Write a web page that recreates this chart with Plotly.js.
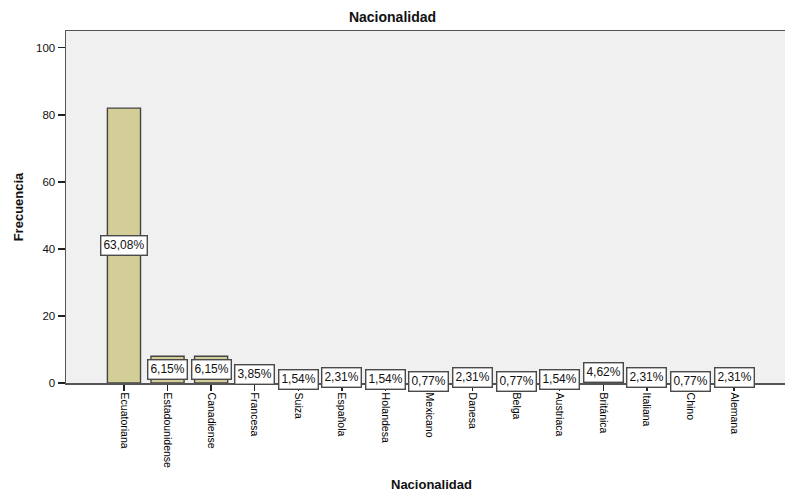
<!DOCTYPE html>
<html>
<head>
<meta charset="utf-8">
<script src="https://cdn.plot.ly/plotly-3.0.1.min.js"></script>
<style>html,body{margin:0;padding:0;background:#fff;}#chart{width:785px;height:491px;}</style>
</head>
<body>
<div id="chart"></div>
<script>
const categories = ["Ecuatoriana","Estadounidense","Canadiense","Francesa","Suiza","Española","Holandesa","Mexicano","Danesa","Belga","Austriaca","Británica","Italiana","Chino","Alemana"];
const counts = [82, 8, 8, 5, 2, 3, 2, 1, 3, 1, 2, 6, 3, 1, 3];
const percentLabels = ["63,08%","6,15%","6,15%","3,85%","1,54%","2,31%","1,54%","0,77%","2,31%","0,77%","1,54%","4,62%","2,31%","0,77%","2,31%"];
const yTicks = [0, 20, 40, 60, 80, 100];

const font = "Liberation Sans, Arial, sans-serif";

const trace = {
  type: "bar",
  x: categories,
  y: counts,
  width: 0.76,
  marker: {color: "#D3CE98", line: {color: "#444444", width: 1.4}},
  hoverinfo: "x+y"
};

const annotations = categories.map((c, i) => ({
  x: c, y: counts[i] / 2, xref: "x", yref: "y",
  text: percentLabels[i], showarrow: false,
  bgcolor: "#ffffff", bordercolor: "#4a4a4a", borderwidth: 1.4, borderpad: 2,
  font: {family: font, size: 12, color: "#111"}
}));
annotations.push({
  xref: "paper", yref: "paper", x: 0.5077, y: 0, yshift: -111,
  xanchor: "center", yanchor: "bottom", showarrow: false,
  text: "<b>Nacionalidad</b>", font: {family: font, size: 13, color: "#111"}
});

const layout = {
  width: 785, height: 491,
  margin: {l: 66, r: 0, t: 31, b: 108},
  paper_bgcolor: "#ffffff",
  plot_bgcolor: "#F0F0F0",
  showlegend: false,
  title: {text: "<b>Nacionalidad</b>", x: 0.5, xanchor: "center", y: 0.965, yanchor: "middle",
          font: {family: font, size: 14, color: "#111"}},
  xaxis: {
    type: "category", range: [-1.33, 15.17],
    tickangle: 90, ticks: "outside", ticklen: 6, tickcolor: "#222", tickwidth: 1.4,
    showline: true, linecolor: "#555", linewidth: 1.5, mirror: true,
    showgrid: false, zeroline: false,
    tickfont: {family: font, size: 10.5, color: "#000"}
  },
  yaxis: {
    range: [0, 105], tickvals: yTicks, ticktext: yTicks.map(String),
    ticks: "outside", ticklen: 7, tickcolor: "#222", tickwidth: 1.4,
    showline: true, linecolor: "#555", linewidth: 1.5,
    showgrid: false, zeroline: false,
    tickfont: {family: font, size: 11.5, color: "#111"},
    title: {text: "<b>Frecuencia</b>", standoff: 9, font: {family: font, size: 13, color: "#111"}}
  },
  annotations: annotations
};

Plotly.newPlot("chart", [trace], layout, {displayModeBar: false, staticPlot: true});
</script>
</body>
</html>
